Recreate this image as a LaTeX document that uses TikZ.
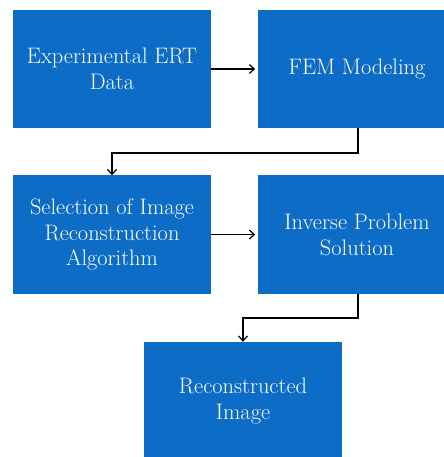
\documentclass[tikz,border=0pt]{standalone}
\usetikzlibrary{positioning,arrows.meta}
\definecolor{boxblue}{RGB}{12,108,198}
\begin{document}
\begin{tikzpicture}[x=1bp,y=-1bp,
  stepbox/.style={rectangle,fill=boxblue,text=white,inner sep=0pt,
    minimum width=198bp,minimum height=118bp,align=center,
    font=\fontsize{22.5}{26}\selectfont},
  flow/.style={-{Straight Barb[length=5bp,width=9bp]},line width=1.2bp,black}]
\useasboundingbox (0,0) rectangle (444,457);
\clip (0,0) rectangle (444,457);
\node[stepbox] (ert) at (112,69) {Experimental ERT\\Data};
\node[stepbox] (fem) at (357,69) {FEM Modeling};
\node[stepbox] (sel) at (112,234.5) {Selection of Image\\Reconstruction\\Algorithm};
\node[stepbox] (inv) at (357,234.5) {Inverse Problem\\Solution};
\node[stepbox] (rec) at (243,401) {Reconstructed\\Image};

\coordinate (k1) at (358,153);
\coordinate (k2) at (112,153);
\coordinate (k3) at (358,318);
\coordinate (k4) at (243,318);

\draw[flow] (ert.east) -- ++(44,0);
\draw[flow] (sel.east) -- ++(44,0);
\draw[flow] (fem.south -| k1) -- (k1) -- (k2) -- (sel.north);
\draw[flow] (inv.south -| k3) -- (k3) -- (k4) -- (rec.north);
\end{tikzpicture}
\end{document}
